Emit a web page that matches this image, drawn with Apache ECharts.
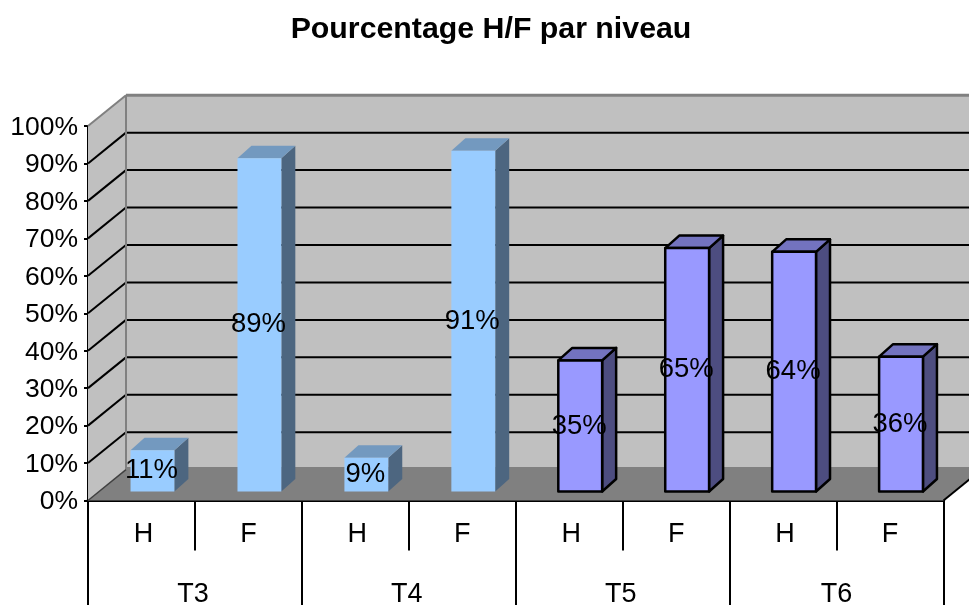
<!DOCTYPE html>
<html>
<head>
<meta charset="utf-8">
<style>html,body{margin:0;padding:0;background:#fff}#c{width:969px;height:605px}</style>
<script src="https://cdn.jsdelivr.net/npm/echarts@6/dist/echarts.min.js"></script>
</head>
<body>
<div id="c"></div>
<script>
const titleText = 'Pourcentage H/F par niveau';
const subCategories = ['H','F','H','F','H','F','H','F'];
const groupCategories = ['T3','T4','T5','T6'];
const valuesBlue = [11,89,9,91,null,null,null,null];
const valuesPurple = [null,null,null,null,35,65,64,36];
const yTicks = [0,10,20,30,40,50,60,70,80,90,100];

const FONT = '"Liberation Sans", Arial, sans-serif';
const WALL_DX = 38, WALL_DY = -30.8;   // depth of the 3D box
const FLOOR_DY = -33.5;
const BAR_DX = 11, BAR_DY = -9;        // bars' front face within the box
const BAR_SIDE_DX = 14, BAR_SIDE_DY = -12.5;
const chart = echarts.init(document.getElementById('c'), null, {renderer:'canvas'});

function renderScene(params, api){
  const g = params.coordSys;
  const L = g.x, R = g.x + g.width, T = g.y, B = g.y + g.height;
  const kids = [];
  const poly = (pts, fill, stroke, lw) => kids.push({type:'polygon', shape:{points:pts},
    style:{fill:fill, stroke:stroke||null, lineWidth:lw||0}});
  const line = (a,b,c,lw) => kids.push({type:'line', shape:{x1:a[0],y1:a[1],x2:b[0],y2:b[1]},
    style:{stroke:c, lineWidth:lw, fill:null}});
  // back wall, side wall
  poly([[L+WALL_DX,T+WALL_DY],[R+WALL_DX,T+WALL_DY],[R+WALL_DX,B+WALL_DY],[L+WALL_DX,B+WALL_DY]],'#c0c0c0');
  poly([[L,T],[L+WALL_DX,T+WALL_DY],[L+WALL_DX,B+WALL_DY],[L,B]],'#c0c0c0');
  // gridlines
  yTicks.forEach(v => {
    const y = api.coord([0,v])[1];
    if (v > 0 && v < 100) {
      line([L,y],[L+WALL_DX,y+WALL_DY],'#000',2);
      line([L+WALL_DX,y+WALL_DY],[R+WALL_DX,y+WALL_DY],'#000',2);
    }
  });
  // floor
  poly([[L,B],[R,B],[R+WALL_DX,B+WALL_DY],[R+WALL_DX,B+FLOOR_DY],[L+WALL_DX,B+FLOOR_DY],[L+WALL_DX,B+WALL_DY]],'#808080');
  // wall edges
  line([L,T],[L+WALL_DX,T+WALL_DY],'#808080',2);
  line([L+WALL_DX,T+WALL_DY],[R+WALL_DX,T+WALL_DY],'#808080',3);
  line([L+WALL_DX,T+WALL_DY],[L+WALL_DX,B+WALL_DY],'#808080',2);
  line([L,B],[L+WALL_DX,B+WALL_DY],'#404040',1.5);
  line([R,B],[R+WALL_DX,B+WALL_DY],'#000',2);
  return {type:'group', children:kids};
}

function barRenderer(front, top, side, stroke, lw){
  return function(params, api){
    const val = api.value(1);
    if (val == null || isNaN(val)) return null;
    const c1 = api.coord([api.value(0), val]);
    const c0 = api.coord([api.value(0), 0]);
    const w = api.size([1,0])[0] * 0.41;
    const x0 = c1[0] - w/2 + BAR_DX, x1 = x0 + w;
    const yt = c1[1] + BAR_DY, yb = c0[1] + BAR_DY;
    const sx = BAR_SIDE_DX, sy = BAR_SIDE_DY;
    const st = {stroke:stroke, lineWidth:lw, lineJoin:'round'};
    return {type:'group', children:[
      {type:'polygon', shape:{points:[[x1,yt],[x1+sx,yt+sy],[x1+sx,yb+sy],[x1,yb]]}, style:Object.assign({fill:side},st)},
      {type:'polygon', shape:{points:[[x0,yt],[x1,yt],[x1+sx,yt+sy],[x0+sx,yt+sy]]}, style:Object.assign({fill:top},st)},
      {type:'rect', shape:{x:x0,y:yt,width:w,height:yb-yt}, style:Object.assign({fill:front},st)},
      {type:'text', z2:100, style:{x:(x0+x1)/2-1, y:(yt+yb)/2, text:val+'%', align:'center', verticalAlign:'middle',
        fill:'#000', font:'27.5px '+FONT}}
    ]};
  };
}

chart.setOption({
  animation:false,
  backgroundColor:'#fff',
  title:{text:titleText, left:486, top:10, textAlign:'center',
    textStyle:{fontFamily:FONT, fontWeight:'bold', fontSize:30.3, color:'#000'}},
  grid:{left:88, right:25.5, top:126, bottom:104.5, containLabel:false, outerBoundsMode:'none'},
  xAxis:[
    {type:'category', data:subCategories, position:'bottom', boundaryGap:true,
     axisLine:{show:true, lineStyle:{color:'#000', width:3}},
     axisTick:{show:true, alignWithLabel:false, length:50, lineStyle:{color:'#000', width:2}},
     axisLabel:{show:true, interval:0, margin:21, fontFamily:FONT, fontSize:27, color:'#000',
       formatter:v => v === 'H' ? '{h|H}' : v,
       rich:{h:{fontFamily:FONT, fontSize:27, color:'#000', padding:[0,0,0,4]}}},
     splitLine:{show:false}},
    {type:'category', data:groupCategories, position:'bottom', boundaryGap:true,
     axisLine:{show:false},
     axisTick:{show:true, alignWithLabel:false, length:110, lineStyle:{color:'#000', width:2}},
     axisLabel:{show:true, interval:0, margin:81, fontFamily:FONT, fontSize:27, color:'#000',
       formatter:v => v === 'T6' ? v : '{t|' + v + '}',
       rich:{t:{fontFamily:FONT, fontSize:27, color:'#000', padding:[0,4,0,0]}}},
     splitLine:{show:false}}
  ],
  yAxis:{type:'value', min:0, max:100, interval:10,
    axisLine:{show:true, lineStyle:{color:'#000', width:2}},
    axisTick:{show:true, length:4, lineStyle:{color:'#000', width:2}},
    axisLabel:{formatter:'{value}%', margin:10, fontFamily:FONT, fontSize:26.5, color:'#000', verticalAlign:'top', lineHeight:3},
    splitLine:{show:false}},
  tooltip:{show:false},
  series:[
    {type:'custom', xAxisIndex:0, yAxisIndex:0, z:1, silent:true, clip:false,
     renderItem:renderScene, data:[[0,0]], encode:{x:0,y:1}},
    {type:'custom', name:'T3-T4', xAxisIndex:0, yAxisIndex:0, z:2, silent:true, clip:false,
     renderItem:barRenderer('#99ccff','#7399bf','#4d6680',null,0),
     data:valuesBlue.map((v,i)=>[i,v]), encode:{x:0,y:1}},
    {type:'custom', name:'T5-T6', xAxisIndex:0, yAxisIndex:0, z:2, silent:true, clip:false,
     renderItem:barRenderer('#9999ff','#7373bf','#4d4d80','#000',2.5),
     data:valuesPurple.map((v,i)=>[i,v]), encode:{x:0,y:1}}
  ]
});
</script>
</body>
</html>
